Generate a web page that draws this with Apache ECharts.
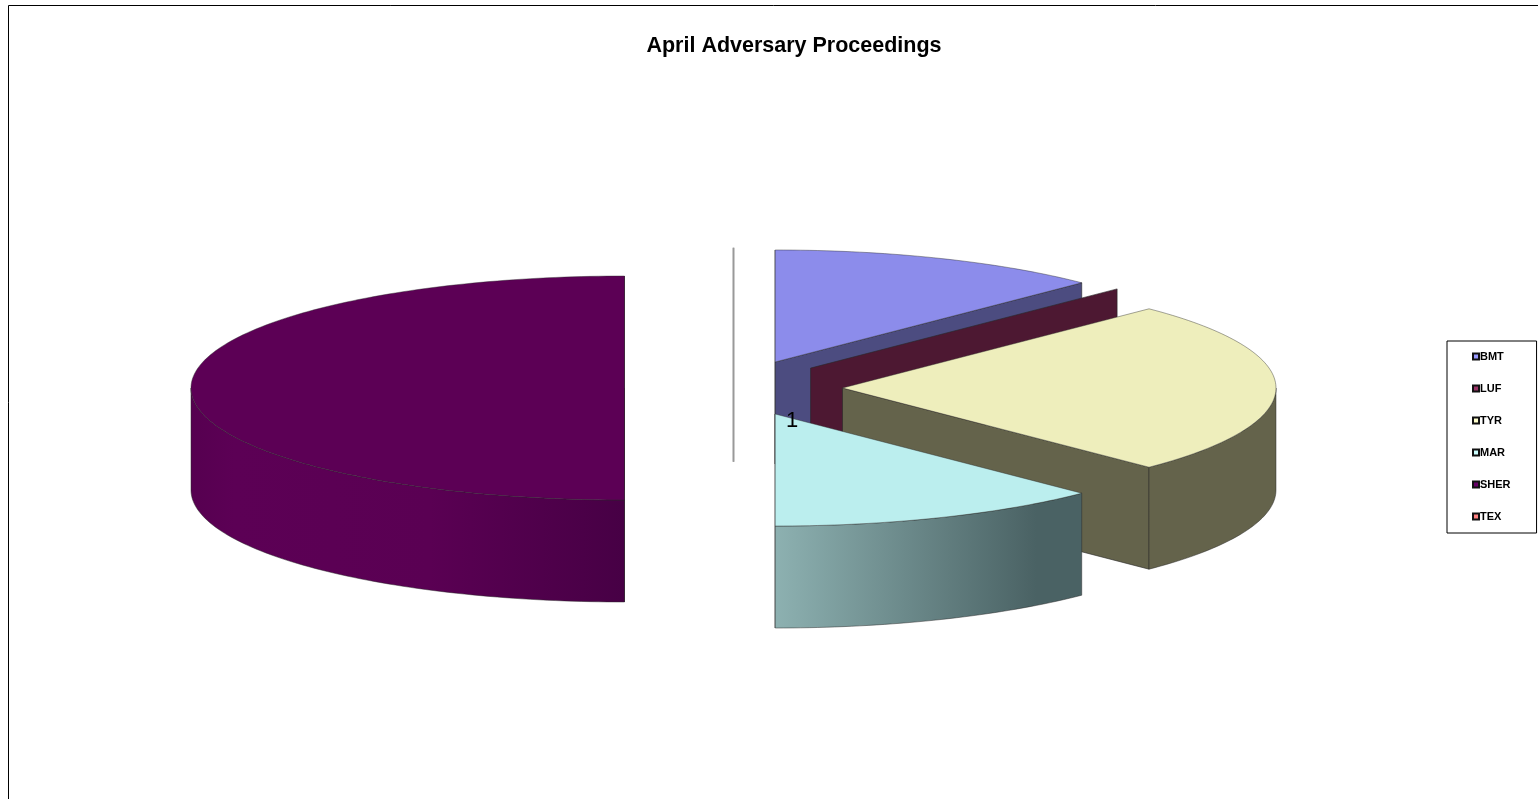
<!DOCTYPE html>
<html>
<head>
<meta charset="utf-8">
<title>April Adversary Proceedings</title>
<script src="https://cdn.jsdelivr.net/npm/echarts@6/dist/echarts.min.js"></script>
<style>
  html, body { margin: 0; padding: 0; background: #fff; }
  #chart { width: 1539px; height: 799px; }
</style>
</head>
<body>
<div id="chart"></div>
<script>
// data
const categories = ["BMT", "LUF", "TYR", "MAR", "SHER", "TEX"];
const values = [2, 0, 4, 2, 8, 0];
const pointLabels = ["1"];
const chartTitle = "April Adversary Proceedings";

// fake 3d pie geometry
const pieX = 733.5;
const pieY = 388;
const radiusX = 433.5;
const radiusY = 112;
const depth = 102;
const explode = 109;
const edgeColor = "rgba(40,40,40,0.6)";

const legendColors = ["#9999ff", "#993366", "#ffffcc", "#ccffff", "#660066", "#ff8080"];
const topColors = ["#8c8ceb", "#8c2e5c", "#eeeebc", "#bbeeee", "#5c0055", "#ee7777"];
const wallColors = ["#4c4c80", "#4d1832", "#64634b", "#66888a", "#5c0055", "#999999"];

function gradient(stops) {
  return {
    type: "linear", x: 0, y: 0, x2: 1, y2: 0,
    colorStops: stops.map(s => ({ offset: s[0], color: s[1] }))
  };
}
const outerFills = {
  MAR: gradient([[0, "#8db1b1"], [0.85, "#4a6264"], [1, "#4a6264"]]),
  SHER: gradient([[0, "#560050"], [0.1, "#5c0055"], [0.55, "#5a0053"], [1, "#470045"]])
};

const total = values.reduce((a, b) => a + b, 0);

function drawSlice(index, value) {
  let before = 0;
  for (let i = 0; i < index; i++) before += values[i];
  const a1 = before / total * Math.PI * 2;
  const a2 = (before + value) / total * Math.PI * 2;
  const mid = (a1 + a2) / 2;
  const cx = pieX + explode * Math.sin(mid);
  const cy = pieY - explode * (radiusY / radiusX) * Math.cos(mid);
  const pt = (a, drop) => [cx + radiusX * Math.sin(a), cy - radiusY * Math.cos(a) + drop];
  const arc = (from, to, drop) => {
    const pts = [];
    const n = Math.max(2, Math.ceil(Math.abs(to - from) / 0.02));
    for (let i = 0; i <= n; i++) pts.push(pt(from + (to - from) * i / n, drop));
    return pts;
  };
  const fill = wallColors[index];
  const children = [];
  // a zero slice seen edge on is only a soft grey line
  const edgeOn = value === 0 && Math.abs(Math.sin(a1)) < 0.01;
  const wall = a => ({
    type: "polygon",
    shape: { points: [[cx, cy], pt(a, 0), pt(a, depth), [cx, cy + depth]] },
    style: {
      fill: fill,
      stroke: edgeOn ? fill : edgeColor,
      lineWidth: edgeOn ? 1.6 : 1
    }
  });
  if (Math.sin(a1) < 0.01) children.push(wall(a1));
  if (Math.sin(a2) > -0.01) children.push(wall(a2));

  // outer wall only where the rim faces the viewer
  const from = Math.max(a1, Math.PI / 2);
  const to = Math.min(a2, Math.PI * 1.5);
  if (to > from) {
    const up = arc(from, to, 0);
    const down = arc(to, from, depth);
    children.push({
      type: "polygon",
      shape: { points: up.concat(down) },
      style: { fill: outerFills[categories[index]] || fill, stroke: edgeColor, lineWidth: 0.8 }
    });
  }
  if (value > 0) {
    const rim = [[cx, cy]].concat(arc(a1, a2, 0));
    children.push({
      type: "polygon",
      shape: { points: rim },
      style: { fill: topColors[index], stroke: edgeColor, lineWidth: 0.7 }
    });
  }
  return { type: "group", children: children };
}

const chart = echarts.init(document.getElementById("chart"));

chart.setOption({
  animation: false,
  title: {
    text: chartTitle,
    left: 789,
    top: 30,
    textAlign: "center",
    textStyle: { fontFamily: "Liberation Sans", fontSize: 21.5, fontWeight: "bold", color: "#000" }
  },
  legend: {
    orient: "vertical",
    left: 1447,
    top: 341,
    padding: [10, 26, 11, 25],
    itemWidth: 6,
    itemHeight: 6,
    itemGap: 21,
    selectedMode: false,
    backgroundColor: "#fff",
    borderColor: "#000",
    borderWidth: 1,
    data: categories.map((name, i) => ({
      name: name,
      icon: "rect",
      itemStyle: { color: legendColors[i], borderColor: "#111", borderWidth: 2 }
    })),
    textStyle: {
      fontFamily: "Liberation Sans",
      fontSize: 11,
      fontWeight: "bold",
      color: "#000",
      padding: [0, 0, 0, -4]
    }
  },
  graphic: [
    {
      type: "polyline",
      silent: true,
      shape: { points: [[8.5, 799], [8.5, 5.5], [1538, 5.5]] },
      style: { fill: null, stroke: "#000", lineWidth: 1 }
    },
    {
      type: "text",
      silent: true,
      z: 50,
      left: 786,
      top: 410,
      style: { text: pointLabels[0], fontFamily: "Liberation Sans", fontSize: 22, fill: "#000" }
    }
  ],
  series: categories.map((name, i) => ({
    name: name,
    type: "custom",
    coordinateSystem: "none",
    silent: true,
    itemStyle: { color: legendColors[i] },
    data: [[values[i]]],
    renderItem: (params, api) => drawSlice(i, api.value(0))
  }))
});
</script>
</body>
</html>
